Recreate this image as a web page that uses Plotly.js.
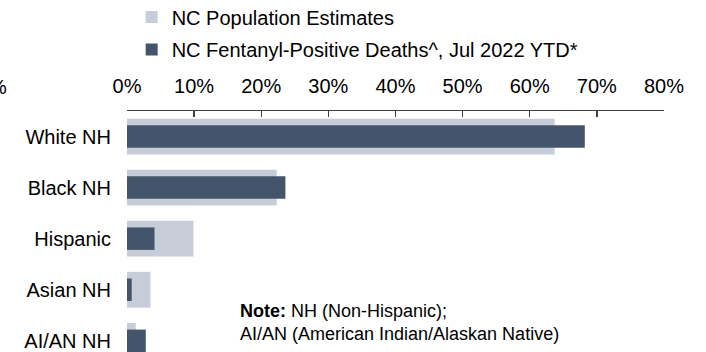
<!DOCTYPE html>
<html>
<head>
<meta charset="utf-8">
<script src="https://cdn.plot.ly/plotly-3.0.1.min.js"></script>
<style>html,body{margin:0;padding:0;overflow:hidden;background:#fff;}#chart{width:706px;height:352px;}</style>
</head>
<body>
<div id="chart"></div>
<script>
// Data
const categories = ["White NH", "Black NH", "Hispanic", "Asian NH", "AI/AN NH"];
const populationEstimates = [0.637, 0.223, 0.099, 0.035, 0.013];
const fentanylDeaths = [0.682, 0.236, 0.041, 0.007, 0.028];
const seriesNames = ["NC Population Estimates", "NC Fentanyl-Positive Deaths^, Jul 2022 YTD*"];
const xTickValues = [0, 0.1, 0.2, 0.3, 0.4, 0.5, 0.6, 0.7, 0.8];

const FONT = "Liberation Sans, Arial, Helvetica, sans-serif";

const traces = [
  {
    type: "bar", orientation: "h", name: seriesNames[0], legendgroup: "pop",
    y: categories, x: populationEstimates, width: 0.7,
    marker: {color: "#c6cdd9"}, hoverinfo: "skip"
  },
  {
    type: "bar", orientation: "h", name: seriesNames[1], legendgroup: "deaths",
    y: categories, x: fentanylDeaths, width: 0.44,
    marker: {color: "#44546a"}, hoverinfo: "skip"
  }
];

const layout = {
  width: 706, height: 352,
  margin: {l: 127, r: 42, t: 111, b: 0, pad: 0, autoexpand: false},
  paper_bgcolor: "#ffffff", plot_bgcolor: "#ffffff",
  barmode: "overlay",
  font: {family: FONT, size: 20, color: "#000000"},
  showlegend: true,
  legend: {
    xref: "container", yref: "paper",
    x: 0.1865, y: 1.471, xanchor: "left", yanchor: "top",
    tracegroupgap: 3.5,
    font: {family: FONT, size: 20, color: "#000000"},
    bgcolor: "rgba(0,0,0,0)", traceorder: "grouped"
  },
  xaxis: {
    side: "top", range: [0, 0.8], tickvals: xTickValues, tickformat: ".0%",
    ticks: "inside", ticklen: 6, tickwidth: 1.3, tickcolor: "#404040",
    showline: true, linecolor: "#404040", linewidth: 1.5,
    showgrid: false, zeroline: false, fixedrange: true, automargin: false,
    tickangle: 0, ticklabelstandoff: 9,
    tickfont: {family: FONT, size: 20, color: "#000000"}
  },
  yaxis: {
    type: "category", range: [4.219, -0.5],
    showline: false, showgrid: false, zeroline: false, ticks: "",
    ticklabelstandoff: 15, fixedrange: true, automargin: false,
    tickfont: {family: FONT, size: 20, color: "#000000"}
  },
  annotations: [
    {
      xref: "paper", yref: "paper", x: 0.2075, y: 0.1225,
      xanchor: "left", yanchor: "middle", align: "left", showarrow: false,
      text: "<b>Note:</b> NH (Non-Hispanic);<br>AI/AN (American Indian/Alaskan Native)",
      font: {family: FONT, size: 18, color: "#000000"}
    },
    {
      xref: "paper", yref: "paper", x: -0.2199, y: 1.0996,
      xanchor: "right", yanchor: "middle", showarrow: false,
      text: "%", font: {family: FONT, size: 20, color: "#000000"}
    }
  ]
};

Plotly.newPlot("chart", traces, layout, {displayModeBar: false, staticPlot: true});
</script>
</body>
</html>
